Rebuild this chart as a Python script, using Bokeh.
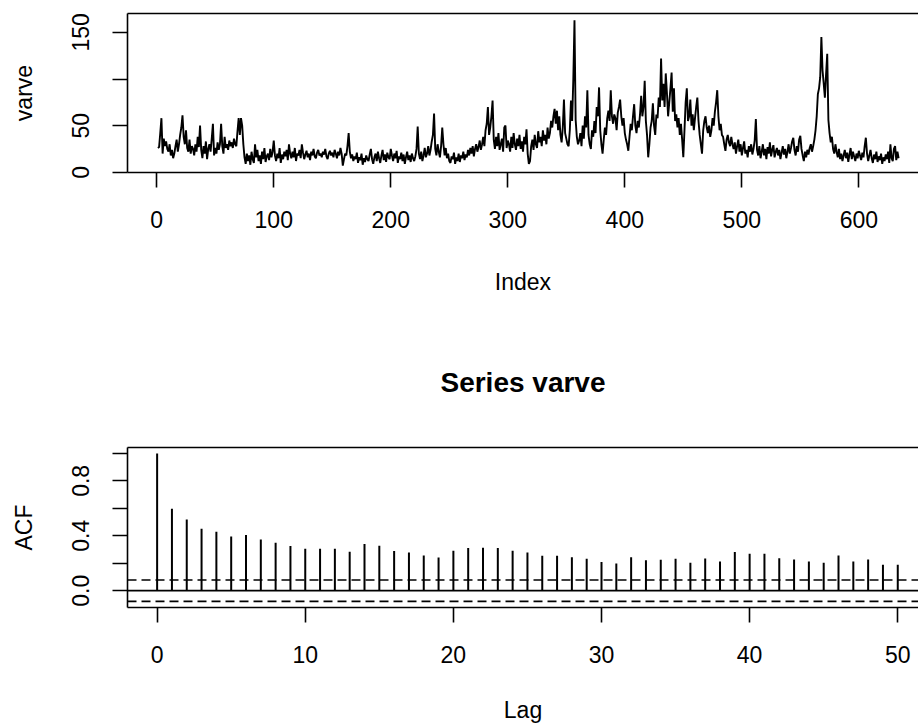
import numpy as np
from bokeh.plotting import figure
from bokeh.layouts import column
from bokeh.models import Range1d, FixedTicker, LinearAxis, Span, PrintfTickFormatter
from bokeh.embed import file_html
from bokeh.resources import INLINE

# ---------------- data ----------------
varve = [
    26, 27, 42, 58, 20, 36, 28, 33, 25, 22, 30, 18, 24, 15, 20, 28, 35, 22, 30, 40,
    48, 61, 38, 30, 45, 26, 22, 35, 20, 28, 25, 18, 30, 22, 38, 27, 50, 24, 15, 28,
    20, 33, 14, 25, 30, 22, 36, 52, 18, 26, 20, 32, 24, 30, 52, 28, 20, 38, 26, 30,
    24, 34, 28, 32, 26, 36, 30, 28, 44, 58, 40, 58, 50, 30, 16,
    9, 20, 12, 18, 8, 22, 14, 10, 30, 16, 24, 12, 18, 9, 22, 14, 26, 11, 17, 20,
    13, 25, 16, 22, 34, 18, 12, 20, 15, 26, 10, 19, 14, 22, 17, 24, 13, 30, 20, 15,
    22, 16, 26, 12, 20, 18, 24, 15, 30, 21, 14, 19, 23, 16, 20, 13, 22, 18, 25, 17,
    15, 21, 24, 18, 20, 16, 22, 19, 25, 17, 14, 20, 23, 18, 21, 16, 24, 20, 15, 22, 18, 26, 20, 7, 14,
    20, 18, 28, 42, 22, 15, 19, 12, 17, 14, 21, 10, 16, 13, 20, 8, 15, 11, 18, 14,
    12, 19, 25, 14, 9, 16, 20, 12, 22, 15, 10, 18, 24, 13, 19, 11, 21, 16, 14, 25,
    18, 12, 20, 15, 23, 10, 17, 14, 21, 12, 19, 9, 16, 22, 13, 18, 11, 20, 15, 12,
    17, 25, 49, 20, 14, 22, 12, 18, 26, 16,
    20, 28, 18, 24, 33, 40, 63, 25, 18, 30, 22, 16, 28, 48, 30, 18, 26, 15, 20, 12,
    10, 17, 14, 21, 9, 16, 12, 20, 11, 18, 15, 22, 13, 19, 16, 24, 18, 26, 20, 28,
    17, 25, 30, 22, 27, 34, 24, 30, 38, 28, 45, 52, 70, 40, 48, 60, 77, 35, 25, 38,
    28, 42, 24, 30, 36, 22, 48, 50, 26, 34,
    30, 22, 38, 26, 42, 30, 24, 36, 28, 40, 25, 33, 22, 38, 30, 46, 20, 9, 12, 28,
    35, 24, 40, 30, 26, 44, 32, 38, 28, 45, 34, 40, 30, 48, 36, 42, 55, 48, 60, 68,
    52, 66, 45, 60, 40, 32, 48, 78, 42, 36, 30, 28, 45, 77, 55, 100, 163, 56, 38, 30,
    34, 42, 28, 50, 36, 60, 48, 88, 40, 30, 25, 45, 38, 55, 42, 70, 60, 91, 45, 30,
    20, 35, 48, 40, 58, 66, 55, 88, 60, 52, 62, 58, 45, 64, 70, 78, 60, 50, 58, 42,
    35, 30, 23, 38, 52, 45, 60, 73, 50, 42, 55, 48, 62, 82, 60, 70, 98, 55, 40, 16,
    30, 48, 55, 74, 50, 40, 62, 58, 80, 70, 122, 77, 95, 70, 106, 85, 60, 75, 90, 107,
    65, 90, 55, 62, 48, 58, 40, 52, 35, 16, 45, 75, 90, 55, 60, 78, 50, 62, 45, 58,
    70, 80, 55, 40, 30, 20, 45, 55, 60, 48, 42, 50, 38, 45, 58, 50, 65, 75, 88, 60,
    45, 52, 40, 38, 30, 23, 35, 40, 32, 28,
    38, 30, 25, 32, 20, 28, 35, 22, 30, 18, 26, 33, 20, 24, 16, 28, 22, 30, 19, 25,
    34, 57, 24, 18, 28, 15, 22, 30, 18, 25, 14, 27, 20, 32, 17, 24, 29, 16, 22, 26,
    18, 24, 14, 21, 28, 19, 25, 15, 22, 30, 20, 26, 33, 37, 24, 18, 28, 22, 35, 39,
    25, 18, 12, 22, 16, 24, 19, 26, 30, 22,
    28, 35, 45, 60, 84, 90, 102, 145, 109, 95, 80, 105, 127, 56, 42, 32, 38, 25, 20, 30,
    22, 16, 25, 14, 20, 12, 18, 24, 15, 21, 11, 19, 26, 14, 22, 17, 12, 20, 15, 23,
    18, 13, 21, 16, 28, 37, 20, 12, 18, 24, 15, 10, 19, 14, 22, 11, 17, 13, 20, 9,
    16, 12, 19, 14, 22, 10, 30, 15, 12, 25, 28, 13, 22, 15,
]
index = list(range(1, len(varve) + 1))

lags = list(range(0, 51))
acf = [1.0, 0.597, 0.518, 0.452, 0.430, 0.394, 0.406, 0.372, 0.350, 0.325,
       0.306, 0.306, 0.306, 0.284, 0.340, 0.328, 0.289, 0.279, 0.257, 0.242,
       0.291, 0.310, 0.313, 0.310, 0.291, 0.279, 0.254, 0.254, 0.244, 0.232,
       0.208, 0.198, 0.244, 0.222, 0.225, 0.232, 0.203, 0.235, 0.213, 0.281,
       0.269, 0.269, 0.237, 0.227, 0.213, 0.203, 0.257, 0.213, 0.227, 0.188, 0.188]
conf = 0.078

top_xticks = [0, 100, 200, 300, 400, 500, 600]
top_yticks = [0, 50, 100, 150]
bot_xticks = [0, 10, 20, 30, 40, 50]
bot_yticks = [0.0, 0.2, 0.4, 0.6, 0.8, 1.0]

FONT = "Liberation Sans"
FS = "23px"
LW = 1.6


def style_axis(ax, ticks, overrides=None, label_standoff=20, title_standoff=30):
    ax.ticker = FixedTicker(ticks=ticks)
    if overrides:
        ax.major_label_overrides = overrides
    ax.axis_line_width = LW
    ax.axis_line_color = "black"
    ax.major_tick_line_width = LW
    ax.major_tick_line_color = "black"
    ax.major_tick_out = 15
    ax.major_tick_in = 0
    ax.minor_tick_out = 0
    ax.minor_tick_in = 0
    ax.major_label_text_font = FONT
    ax.major_label_text_font_size = FS
    ax.major_label_text_color = "black"
    ax.major_label_standoff = label_standoff
    ax.axis_label_text_font = FONT
    ax.axis_label_text_font_size = FS
    ax.axis_label_text_font_style = "normal"
    ax.axis_label_text_color = "black"
    ax.axis_label_standoff = title_standoff


def top_border(p, label=None, standoff=0):
    ax = LinearAxis(ticker=FixedTicker(ticks=[]))
    ax.axis_line_width = LW
    ax.axis_line_color = "black"
    ax.major_tick_out = 0
    ax.major_tick_in = 0
    ax.minor_tick_out = 0
    ax.minor_tick_in = 0
    ax.major_label_text_font_size = "0px"
    if label:
        ax.axis_label = label
        ax.axis_label_text_font = FONT
        ax.axis_label_text_font_size = "28px"
        ax.axis_label_text_font_style = "bold"
        ax.axis_label_text_color = "black"
        ax.axis_label_standoff = standoff
    p.add_layout(ax, "above")


# ---------------- top panel ----------------
p1 = figure(width=918, height=316, output_backend="svg", toolbar_location=None,
            x_range=Range1d(-25.0, 651.0), y_range=Range1d(-0.3, 170.3),
            min_border_left=127, min_border_right=0, min_border_top=13,
            min_border_bottom=144)
p1.outline_line_color = None
p1.grid.visible = False
p1.background_fill_color = "white"
p1.border_fill_color = "white"
p1.line(index, varve, line_color="black", line_width=1.9)
style_axis(p1.xaxis[0], top_xticks, label_standoff=23, title_standoff=38)
p1.xaxis[0].axis_label = "Index"
style_axis(p1.yaxis[0], top_yticks, overrides={100: ""}, label_standoff=23, title_standoff=33)
p1.yaxis[0].major_label_orientation = "vertical"
p1.yaxis[0].axis_label = "varve"
top_border(p1)

# ---------------- bottom panel (ACF) ----------------
p2 = figure(width=918, height=410, output_backend="svg", toolbar_location=None,
            x_range=Range1d(-2.0, 51.4), y_range=Range1d(-0.1226, 1.0431),
            min_border_left=127, min_border_right=0, min_border_top=131,
            min_border_bottom=119)
p2.outline_line_color = None
p2.grid.visible = False
p2.background_fill_color = "white"
p2.border_fill_color = "white"
p2.segment(x0=lags, y0=[0] * len(lags), x1=lags, y1=acf, line_color="black", line_width=2.0)
p2.add_layout(Span(location=0, dimension="width", line_color="black", line_width=LW))
p2.add_layout(Span(location=conf, dimension="width", line_color="black", line_width=1.6,
                   line_dash="9 5"))
p2.add_layout(Span(location=-conf, dimension="width", line_color="black", line_width=1.6,
                   line_dash="9 5"))
style_axis(p2.xaxis[0], bot_xticks, label_standoff=23, title_standoff=31)
p2.xaxis[0].axis_label = "Lag"
style_axis(p2.yaxis[0], bot_yticks, label_standoff=23, title_standoff=33)
p2.yaxis[0].formatter = PrintfTickFormatter(format="%.1f")
p2.yaxis[0].major_label_overrides = {0.2: "", 0.6: "", 1.0: "", 1: ""}
p2.yaxis[0].major_label_orientation = "vertical"
p2.yaxis[0].axis_label = "ACF"
top_border(p2, label="Series varve", standoff=50)

layout = column(p1, p2, spacing=0)
open("out.html", "w").write(file_html(layout, INLINE))
